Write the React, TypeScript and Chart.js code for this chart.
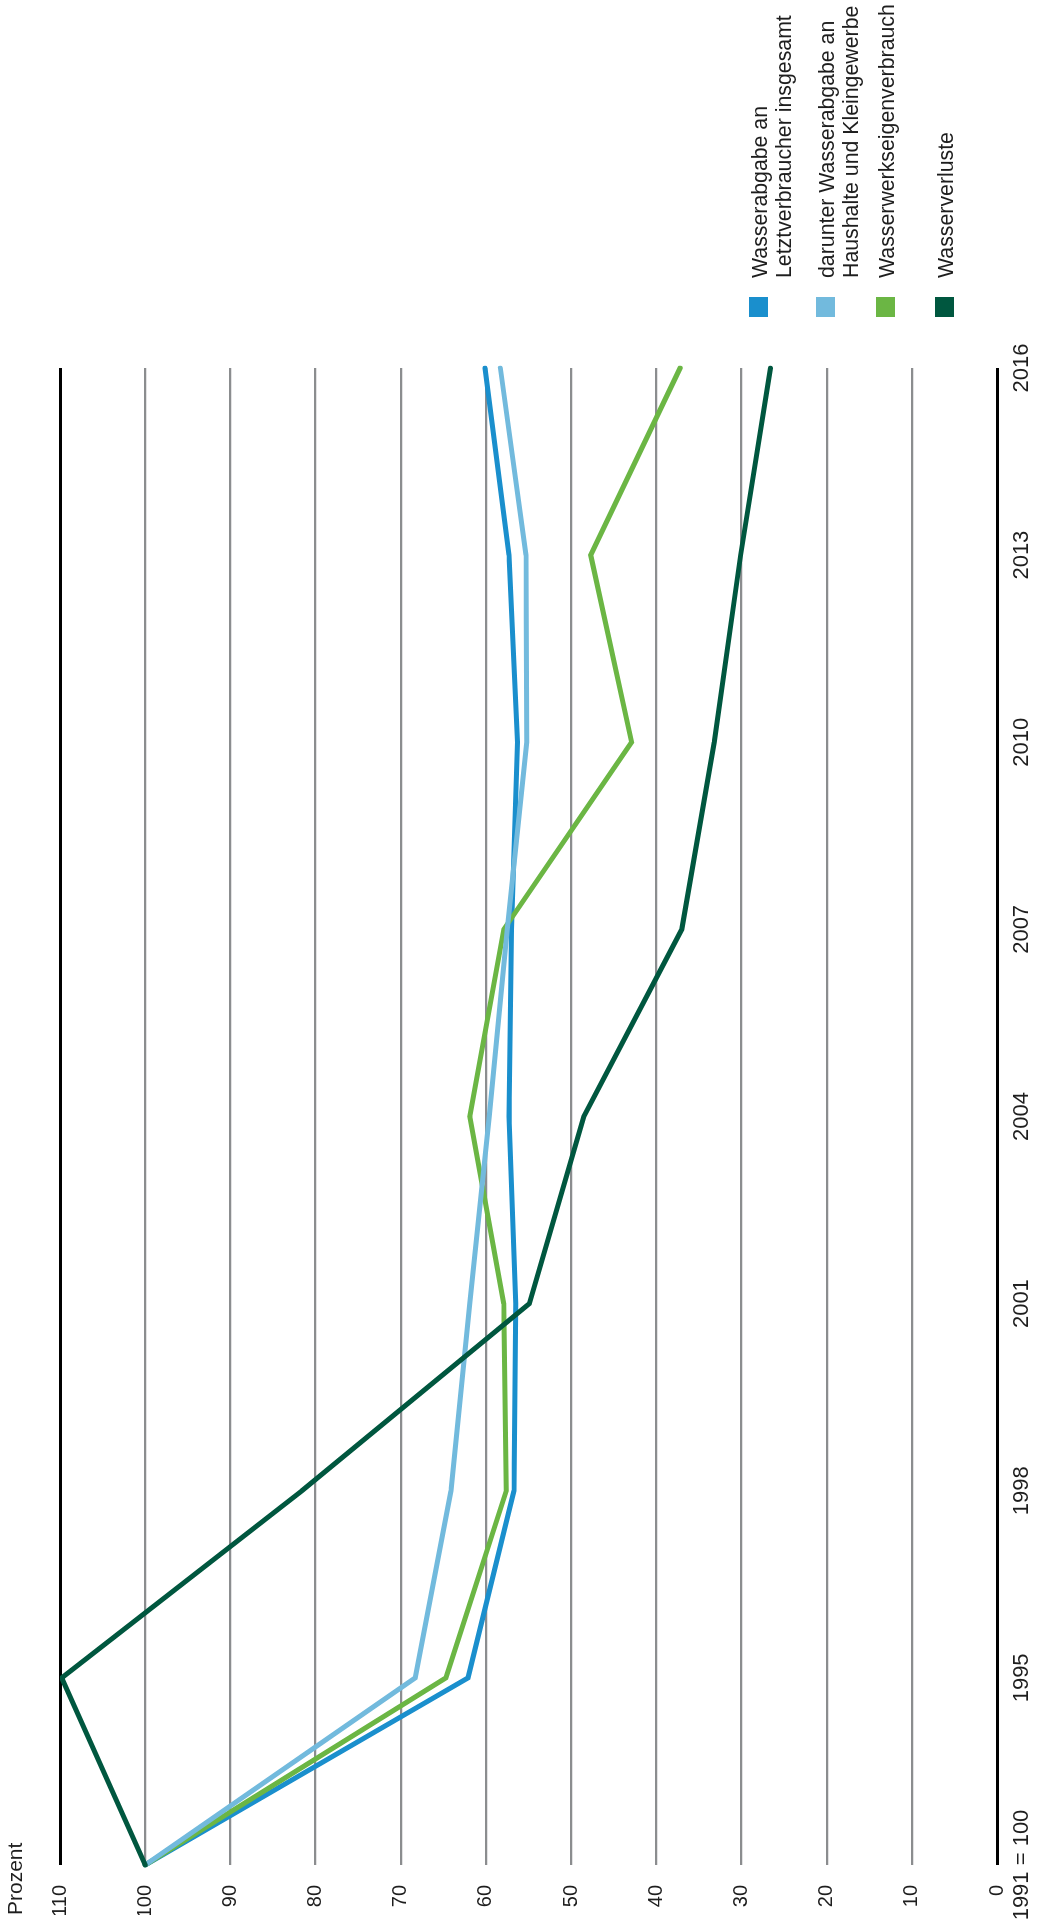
import React, { useEffect, useRef } from "react";
import { Chart, registerables } from "chart.js";

Chart.register(...registerables);

// ---- data ----
const years = ["1991 = 100", "1995", "1998", "2001", "2004", "2007", "2010", "2013", "2016"];
const legendLines = [
  ["Wasserabgabe an", "Letztverbraucher insgesamt"],
  ["darunter Wasserabgabe an", "Haushalte und Kleingewerbe"],
  ["Wasserwerkseigenverbrauch"],
  ["Wasserverluste"],
];
const letztverbraucher = [100, 62.1, 56.7, 56.5, 57.3, 57.0, 56.3, 57.3, 60.1];
const haushalte = [100, 68.3, 64.1, 61.9, 59.6, 57.5, 55.2, 55.3, 58.3];
const eigenverbrauch = [100, 64.7, 57.6, 57.9, 61.9, 57.9, 42.9, 47.7, 37.2];
const verluste = [100, 109.8, 81.6, 54.9, 48.5, 37.0, 33.2, 30.1, 26.6];
const yMin = 0;
const yMax = 110;
const yStep = 10;
const axisTitle = "Prozent";

const colors = ["#1a8fcd", "#72badd", "#6bb644", "#00573f"];
const FONT = '"Liberation Sans", Arial, Helvetica, sans-serif';
const TEXT = "#1e1e1e";

const sideLegend = {
  id: "sideLegend",
  afterDraw(chart: any) {
    const ctx = chart.ctx as CanvasRenderingContext2D;
    const area = chart.chartArea;
    const tops = [749, 816, 876, 935];
    ctx.save();
    ctx.font = `21.3px ${FONT}`;
    ctx.textAlign = "left";
    ctx.textBaseline = "alphabetic";
    chart.data.datasets.forEach((ds: any, i: number) => {
      const top = tops[i];
      ctx.fillStyle = ds.borderColor;
      ctx.fillRect(area.right + 51, top, 20, 19);
      ctx.fillStyle = TEXT;
      legendLines[i].forEach((t, j) => {
        ctx.fillText(t, area.right + 90, top + 18 + j * 24);
      });
    });
    ctx.restore();
  },
};

export default function App() {
  const ref = useRef<HTMLCanvasElement>(null);

  useEffect(() => {
    Chart.defaults.font.family = FONT;
    const mk = (label: string, data: number[], color: string, order: number) => ({
      label,
      data,
      borderColor: color,
      backgroundColor: color,
      borderWidth: 5,
      pointRadius: 0,
      pointHoverRadius: 0,
      tension: 0,
      fill: false,
      borderCapStyle: "round" as const,
      borderJoinStyle: "miter" as const,
      order,
    });
    const chart = new Chart(ref.current!, {
      type: "line",
      data: {
        labels: years,
        datasets: [
          mk(legendLines[0].join(" "), letztverbraucher, colors[0], 3),
          mk(legendLines[1].join(" "), haushalte, colors[1], 1),
          mk(legendLines[2].join(" "), eigenverbrauch, colors[2], 2),
          mk(legendLines[3].join(" "), verluste, colors[3], 0),
        ],
      },
      options: {
        responsive: false,
        maintainAspectRatio: false,
        devicePixelRatio: 1,
        animation: false,
        layout: { padding: { left: 9, right: 368, top: 0, bottom: 0 } },
        plugins: {
          legend: { display: false },
          tooltip: { enabled: false },
          title: {
            display: true,
            text: axisTitle,
            align: "start",
            color: TEXT,
            font: { size: 21, weight: "normal" },
            padding: { top: 4, bottom: 30.8 },
          },
        },
        scales: {
          x: {
            type: "category",
            offset: false,
            grid: { display: false, drawTicks: false },
            border: { display: false },
            ticks: {
              color: TEXT,
              font: { size: 22 },
              padding: 12,
              maxRotation: 0,
              minRotation: 0,
              autoSkip: false,
            },
            afterFit: (s: any) => {
              s.height = 43;
              s.paddingLeft = 0;
              s.paddingRight = 0;
            },
          },
          y: {
            min: yMin,
            max: yMax,
            ticks: {
              stepSize: yStep,
              color: TEXT,
              font: { size: 20 },
              padding: 20,
            },
            grid: {
              drawTicks: false,
              color: (c: any) =>
                c.tick && (c.tick.value === yMin || c.tick.value === yMax) ? "#000000" : "#8b8d8f",
              lineWidth: (c: any) =>
                c.tick && (c.tick.value === yMin || c.tick.value === yMax) ? 3 : 2.2,
            },
            border: { display: false },
            afterFit: (s: any) => {
              s.width = 50;
            },
          },
        },
      },
      plugins: [sideLegend],
    });
    return () => chart.destroy();
  }, []);

  return (
    <div
      style={{
        position: "absolute",
        left: 0,
        top: 0,
        width: 1040,
        height: 1924,
        overflow: "hidden",
        background: "#ffffff",
      }}
    >
      <div
        style={{
          position: "absolute",
          left: 0,
          top: 0,
          width: 1924,
          height: 1040,
          transformOrigin: "0 0",
          transform: "translateY(1924px) rotate(-90deg)",
        }}
      >
        <canvas
          ref={ref}
          width={1924}
          height={1040}
          style={{ display: "block", width: 1924, height: 1040 }}
        />
      </div>
    </div>
  );
}
